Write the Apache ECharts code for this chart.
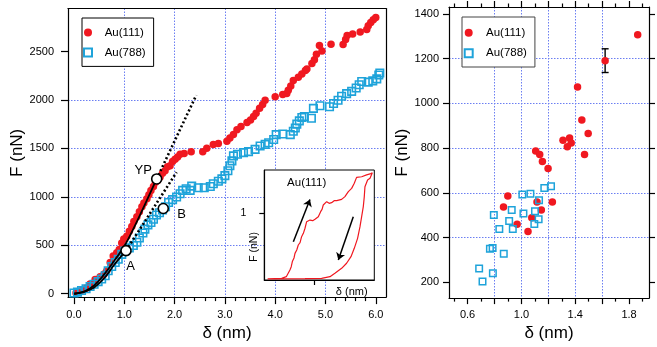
<!DOCTYPE html>
<html><head><meta charset="utf-8">
<script src="https://cdn.jsdelivr.net/npm/echarts@6/dist/echarts.min.js"></script>
<style>html,body{margin:0;padding:0;background:#fff}#c{width:657px;height:347px}</style>
</head><body><div id="c"></div>
<script>
// ---------- data ----------
const seriesNames = ['Au(111)', 'Au(788)'];
// Left panel: F vs delta curves
const au111Left = [[0.04,7],[0.15,34],[0.24,58],[0.32,100],[0.42,146],[0.52,176],[0.6,203],[0.65,234],[0.72,322],[0.78,390],[0.85,423],[0.9,457],[0.95,525],[0.99,566],[1.05,593],[1.1,644],[1.15,694],[1.19,745],[1.25,796],[1.3,847],[1.35,898],[1.39,938],[1.45,982],[1.49,1023],[1.53,1067],[1.58,1108],[1.62,1152],[1.66,1169],[1.71,1203],[1.76,1243],[1.81,1270],[1.86,1311],[1.91,1321],[1.96,1365],[2.01,1389],[2.06,1413],[2.11,1440],[2.19,1447],[2.33,1467],[2.56,1467],[2.64,1501],[2.77,1541],[2.87,1552],[3.04,1575],[3.1,1609],[3.17,1643],[3.24,1694],[3.32,1728],[3.44,1768],[3.51,1795],[3.57,1829],[3.62,1863],[3.69,1914],[3.75,1955],[3.8,1999],[4.0,2033],[4.15,2057],[4.23,2067],[4.26,2101],[4.31,2145],[4.36,2202],[4.46,2236],[4.53,2270],[4.6,2304],[4.63,2320],[4.73,2378],[4.78,2416],[4.82,2473],[4.88,2564],[4.93,2507],[5.11,2575],[5.35,2574],[5.4,2625],[5.43,2666],[5.54,2683],[5.69,2703],[5.82,2727],[5.85,2768],[5.9,2801],[5.95,2828],[6.0,2852]];
const au788Left = [[0,7],[0.07,17],[0.15,34],[0.24,51],[0.32,75],[0.4,98],[0.48,125],[0.55,152],[0.62,186],[0.68,237],[0.75,281],[0.82,322],[0.88,356],[0.95,407],[1.01,440],[1.1,474],[1.18,498],[1.25,532],[1.3,576],[1.37,627],[1.41,667],[1.47,711],[1.53,735],[1.58,769],[1.64,813],[1.7,837],[1.76,864],[1.82,898],[1.88,942],[1.96,972],[2.04,999],[2.11,1033],[2.16,1067],[2.23,1084],[2.31,1067],[2.34,1111],[2.47,1094],[2.59,1094],[2.71,1108],[2.77,1135],[2.87,1162],[2.94,1186],[3.0,1220],[3.06,1270],[3.1,1321],[3.14,1372],[3.17,1423],[3.25,1440],[3.37,1457],[3.47,1467],[3.6,1491],[3.7,1525],[3.8,1542],[3.87,1559],[3.97,1593],[4.02,1643],[4.15,1650],[4.3,1643],[4.36,1677],[4.4,1711],[4.43,1751],[4.48,1785],[4.53,1819],[4.58,1829],[4.72,1812],[4.76,1914],[4.89,1941],[5.08,1931],[5.16,1964],[5.25,1998],[5.32,2039],[5.42,2066],[5.52,2089],[5.61,2124],[5.67,2158],[5.72,2191],[5.85,2185],[5.94,2198],[6.02,2218],[6.06,2259],[6.08,2279]];
// fitted curves
const fit111 = [[0,0],[0.2,22],[0.4,85],[0.6,200],[0.8,340],[1.0,490],[1.2,690],[1.4,910],[1.644,1185]];
const fit788 = [[0,0],[0.2,20],[0.4,65],[0.6,160],[0.8,300],[1.034,445]];
const tangent111 = [[1.644,1185],[2.43,2049]];
const tangent788 = [[1.034,445],[2.04,1255]];
// marked points
const markNames = ['YP', 'B', 'A'];
const markPts = [[1.644,1185],[1.775,880],[1.034,445]];
// Right panel: F vs delta at yield
const au111Right = [[1.864,1307],[1.622,1190],[1.417,1073],[1.449,926],[1.496,865],[1.469,772],[1.309,835],[1.358,845],[1.341,806],[1.370,823],[1.106,787],[1.136,772],[1.156,740],[1.198,709],[1.230,559],[1.148,523],[1.116,559],[1.077,489],[1.049,427],[0.968,460],[0.899,586],[0.867,537]];
const au788Right = [[0.795,501],[1.220,630],[1.170,622],[1.067,596],[1.007,593],[1.131,567],[0.928,523],[1.015,508],[1.101,518],[0.909,474],[1.128,482],[1.096,461],[0.836,439],[0.936,439],[0.786,354],[0.766,350],[0.869,328],[0.686,262],[0.788,241],[0.711,204]];
const errBar = [[1.622,1138,1244]];
// Inset: loading / unloading loop (arbitrary units)
const insetLoop = [[0.03,0.017],[0.158,0.025],[0.2,0.05],[0.218,0.074],[0.233,0.15],[0.245,0.2],[0.255,0.276],[0.27,0.33],[0.279,0.399],[0.295,0.45],[0.309,0.525],[0.325,0.56],[0.339,0.65],[0.355,0.7],[0.37,0.776],[0.385,0.875],[0.415,0.899],[0.44,0.89],[0.461,0.911],[0.491,0.95],[0.512,1.025],[0.525,1.06],[0.536,1.125],[0.567,1.175],[0.59,1.15],[0.612,1.16],[0.635,1.19],[0.658,1.19],[0.703,1.209],[0.733,1.251],[0.764,1.325],[0.794,1.374],[0.818,1.45],[0.839,1.539],[0.885,1.549],[0.93,1.576],[0.961,1.591],[0.982,1.61],[0.961,1.525],[0.939,1.5],[0.915,1.399],[0.909,1.251],[0.9,1.101],[0.885,0.95],[0.87,0.8],[0.848,0.625],[0.818,0.475],[0.788,0.35],[0.748,0.251],[0.703,0.175],[0.642,0.101],[0.597,0.05],[0.521,0.025],[0.37,0.02],[0.03,0.017]];
const insetArrows = [[[0.264,0.574],[0.415,1.209]],[[0.809,0.95],[0.673,0.3]]];
// tick values
const leftXMajor = [0,1,2,3,4,5,6];
const leftXMinor = [0.2,0.4,0.6,0.8,1.2,1.4,1.6,1.8,2.2,2.4,2.6,2.8,3.2,3.4,3.6,3.8,4.2,4.4,4.6,4.8,5.2,5.4,5.6,5.8];
const leftYMajor = [0,500,1000,1500,2000,2500];
const rightXMajor = [0.6,0.8,1.0,1.2,1.4,1.6,1.8];
const rightXLabels = [0.6,1.0,1.4,1.8];
const rightXMinor = [0.5,0.7,0.9,1.1,1.3,1.5,1.7,1.9];
const rightYMajor = [200,400,600,800,1000,1200,1400];
const insetXTicks = [0.455];
const insetYTicks = [1];

// ---------- style ----------
const RED = '#f01820', BLUE = '#1ea3da', GRID = '#6b7ef2', FONT = 'Liberation Sans, Arial, sans-serif';
const split = {show: true, lineStyle: {color: GRID, width: 1, type: [1.5, 1.5]}};
const lineBlack = {onZero: false, lineStyle: {color: '#000', width: 1.2}};
const tickStyle = {color: '#000', width: 1.2};
const plain = v => String(v);
function mainAxis(o) {
  return Object.assign({type: 'value', axisLine: lineBlack, splitLine: {show: false}, axisLabel: {show: false}, axisTick: {show: false}}, o);
}

const chart = echarts.init(document.getElementById('c'), null, {renderer: 'canvas'});
const option = {
  animation: false,
  textStyle: {fontFamily: FONT},
  grid: [
    {left: 68, top: 8.5, width: 318, height: 293.2},
    {left: 449, top: 7, width: 200, height: 295.7},
    {left: 264.3, top: 170, width: 110, height: 110, show: true, backgroundColor: '#fff', borderColor: '#000', borderWidth: 1, z: 10}
  ],
  xAxis: [
    mainAxis({gridIndex: 0, position: 'bottom', min: -0.119, max: 6.203, minInterval: 1, maxInterval: 1,
      axisTick: {show: true, customValues: leftXMajor, length: 7, lineStyle: tickStyle},
      axisLabel: {show: true, customValues: leftXMajor, formatter: v => v.toFixed(1), margin: 12, fontSize: 11, color: '#000', fontFamily: FONT},
      splitLine: Object.assign({showMinLine: false, showMaxLine: false}, split),
      name: 'δ (nm)', nameLocation: 'middle', nameGap: 24, nameTextStyle: {fontSize: 17, color: '#000', fontFamily: FONT}}),
    mainAxis({gridIndex: 0, position: 'bottom', min: -0.119, max: 6.203, axisLine: {show: false, onZero: false},
      axisTick: {show: true, customValues: leftXMinor, length: 4, lineStyle: tickStyle}}),
    mainAxis({gridIndex: 0, position: 'top', min: -0.119, max: 6.203}),
    mainAxis({gridIndex: 1, position: 'bottom', min: 0.462, max: 1.948, minInterval: 0.2, maxInterval: 0.2,
      axisTick: {show: true, customValues: rightXMajor, length: 6, lineStyle: tickStyle},
      axisLabel: {show: true, customValues: rightXLabels, formatter: v => v.toFixed(1), margin: 11, fontSize: 11, color: '#000', fontFamily: FONT},
      splitLine: Object.assign({showMinLine: false, showMaxLine: false}, split),
      name: 'δ (nm)', nameLocation: 'middle', nameGap: 24, nameTextStyle: {fontSize: 17, color: '#000', fontFamily: FONT}}),
    mainAxis({gridIndex: 1, position: 'bottom', min: 0.462, max: 1.948, axisLine: {show: false, onZero: false},
      axisTick: {show: true, customValues: rightXMinor, length: 3.5, lineStyle: tickStyle}}),
    mainAxis({gridIndex: 1, position: 'top', min: 0.462, max: 1.948,
      axisTick: {show: true, customValues: rightXMajor, length: 6, lineStyle: tickStyle}}),
    mainAxis({gridIndex: 1, position: 'top', min: 0.462, max: 1.948, axisLine: {show: false, onZero: false},
      axisTick: {show: true, customValues: rightXMinor, length: 3.5, lineStyle: tickStyle}}),
    mainAxis({gridIndex: 2, position: 'bottom', min: 0, max: 1, z: 11,
      axisTick: {show: true, customValues: insetXTicks, length: 5, lineStyle: tickStyle}})
  ],
  yAxis: [
    mainAxis({gridIndex: 0, position: 'left', min: -34.6, max: 2945, minInterval: 500, maxInterval: 500,
      axisTick: {show: true, customValues: leftYMajor, length: 7, lineStyle: tickStyle},
      axisLabel: {show: true, customValues: leftYMajor, formatter: plain, margin: 14, fontSize: 11, color: '#000', fontFamily: FONT},
      splitLine: Object.assign({showMinLine: false, showMaxLine: false}, split),
      name: 'F (nN)', nameLocation: 'middle', nameGap: 40, nameTextStyle: {fontSize: 17, color: '#000', fontFamily: FONT}}),
    mainAxis({gridIndex: 0, position: 'right', min: -34.6, max: 2945}),
    mainAxis({gridIndex: 1, position: 'left', min: 129.6, max: 1430.8, minInterval: 200, maxInterval: 200,
      axisTick: {show: true, customValues: rightYMajor, length: 6, lineStyle: tickStyle},
      axisLabel: {show: true, customValues: rightYMajor, formatter: plain, margin: 10, fontSize: 11, color: '#000', fontFamily: FONT},
      splitLine: Object.assign({showMinLine: false, showMaxLine: false}, split),
      name: 'F (nN)', nameLocation: 'middle', nameGap: 35, nameTextStyle: {fontSize: 17, color: '#000', fontFamily: FONT}}),
    mainAxis({gridIndex: 1, position: 'right', min: 129.6, max: 1430.8,
      axisTick: {show: true, customValues: rightYMajor, length: 6, lineStyle: tickStyle}}),
    mainAxis({gridIndex: 2, position: 'left', min: 0, max: 1.65, z: 11,
      axisTick: {show: true, customValues: insetYTicks, length: 5, lineStyle: tickStyle},
      axisLabel: {show: true, customValues: insetYTicks, formatter: plain, margin: 18, fontSize: 10.5, color: '#000', fontFamily: FONT}})
  ],
  legend: [
    {data: [{name: 'Au(111)'}, {name: 'Au(788)'}], orient: 'vertical', left: 82, top: 18,
      padding: [8.4, 8, 8, 1], itemWidth: 23.4, itemHeight: 8, itemGap: 8,
      borderColor: '#000', borderWidth: 1, backgroundColor: '#fff',
      textStyle: {fontSize: 11.5, lineHeight: 12, color: '#000', fontFamily: FONT}},
    {data: [{name: 'Au(111)'}, {name: 'Au(788)'}], orient: 'vertical', left: 462, top: 17,
      padding: [9.7, 8, 7.7, 1.7], itemWidth: 24.6, itemHeight: 8, itemGap: 8.6,
      borderColor: '#444', borderWidth: 1, backgroundColor: '#fff',
      textStyle: {fontSize: 11.5, lineHeight: 12, color: '#000', fontFamily: FONT}}
  ],
  graphic: [
    {type: 'text', z: 20, style: {text: 'Au(111)', x: 306.7, y: 182.7, align: 'center', verticalAlign: 'middle', font: '11.5px ' + FONT, fill: '#000'}},
    {type: 'text', z: 20, style: {text: 'F (nN)', x: 254, y: 247, align: 'center', verticalAlign: 'middle', font: '10.5px ' + FONT, fill: '#000'}, rotation: Math.PI / 2, x: 0, y: 0, originX: 254, originY: 247},
    {type: 'text', z: 20, style: {text: 'δ (nm)', x: 351.7, y: 291.7, align: 'center', verticalAlign: 'middle', font: '11px ' + FONT, fill: '#000'}}
  ],
  series: [
    {name: 'Au(111)', type: 'scatter', xAxisIndex: 0, yAxisIndex: 0, data: au111Left, symbol: 'circle', symbolSize: 7.5, itemStyle: {color: RED, opacity: 1}, z: 2},
    {name: 'Au(788)', type: 'scatter', xAxisIndex: 0, yAxisIndex: 0, data: au788Left, symbol: 'path://M0,0H10V10H0Z', symbolSize: 7.5, itemStyle: {color: 'rgba(255,255,255,0)', borderColor: BLUE, borderWidth: 1.6, opacity: 1}, z: 3},
    {type: 'line', xAxisIndex: 0, yAxisIndex: 0, data: fit111, smooth: 0.4, showSymbol: false, lineStyle: {color: '#000', width: 1.8}, z: 4, silent: true},
    {type: 'line', xAxisIndex: 0, yAxisIndex: 0, data: fit788, smooth: 0.4, showSymbol: false, lineStyle: {color: '#000', width: 1.8}, z: 4, silent: true},
    {type: 'line', xAxisIndex: 0, yAxisIndex: 0, data: tangent111, showSymbol: false, lineStyle: {color: '#000', width: 2.6, type: [2, 2.4]}, z: 4, silent: true},
    {type: 'line', xAxisIndex: 0, yAxisIndex: 0, data: tangent788, showSymbol: false, lineStyle: {color: '#000', width: 2.6, type: [2, 2.4]}, z: 4, silent: true},
    {type: 'scatter', xAxisIndex: 0, yAxisIndex: 0, z: 5, symbol: 'circle', symbolSize: 10,
      itemStyle: {color: '#fff', borderColor: '#000', borderWidth: 1.6, opacity: 1},
      data: markPts.map((p, i) => ({value: p, name: markNames[i],
        label: {show: true, formatter: markNames[i], position: 'inside', fontSize: 13, color: '#000', fontFamily: FONT,
          offset: [[-13.4, -9], [18.4, 5.6], [4.7, 15.7]][i]}}))},
    {name: 'Au(111)', type: 'scatter', xAxisIndex: 3, yAxisIndex: 2, data: au111Right, symbol: 'circle', symbolSize: 7.5, itemStyle: {color: RED, opacity: 1}, z: 3},
    {name: 'Au(788)', type: 'scatter', xAxisIndex: 3, yAxisIndex: 2, data: au788Right, symbol: 'path://M0,0H10V10H0Z', symbolSize: 6.5, itemStyle: {color: 'rgba(255,255,255,0)', borderColor: BLUE, borderWidth: 1.5, opacity: 1}, z: 3},
    {type: 'custom', xAxisIndex: 3, yAxisIndex: 2, data: errBar, z: 2, silent: true,
      renderItem: function (params, api) {
        const x = api.value(0);
        const p1 = api.coord([x, api.value(1)]), p2 = api.coord([x, api.value(2)]);
        const c = 3.5, st = {stroke: '#000', lineWidth: 1.4};
        return {type: 'group', children: [
          {type: 'line', shape: {x1: p1[0], y1: p1[1], x2: p2[0], y2: p2[1]}, style: st},
          {type: 'line', shape: {x1: p1[0] - c, y1: p1[1], x2: p1[0] + c, y2: p1[1]}, style: st},
          {type: 'line', shape: {x1: p2[0] - c, y1: p2[1], x2: p2[0] + c, y2: p2[1]}, style: st}
        ]};
      }},
    {type: 'line', xAxisIndex: 7, yAxisIndex: 4, data: insetLoop, showSymbol: false, lineStyle: {color: RED, width: 1.2}, z: 12, silent: true},
    {type: 'lines', coordinateSystem: 'cartesian2d', xAxisIndex: 7, yAxisIndex: 4, z: 12, silent: true,
      symbol: ['none', 'arrow'], symbolSize: 7, lineStyle: {color: '#000', width: 1.5, opacity: 1},
      data: insetArrows.map(c => ({coords: c}))}
  ]
};
chart.setOption(option);
</script>
</body></html>
